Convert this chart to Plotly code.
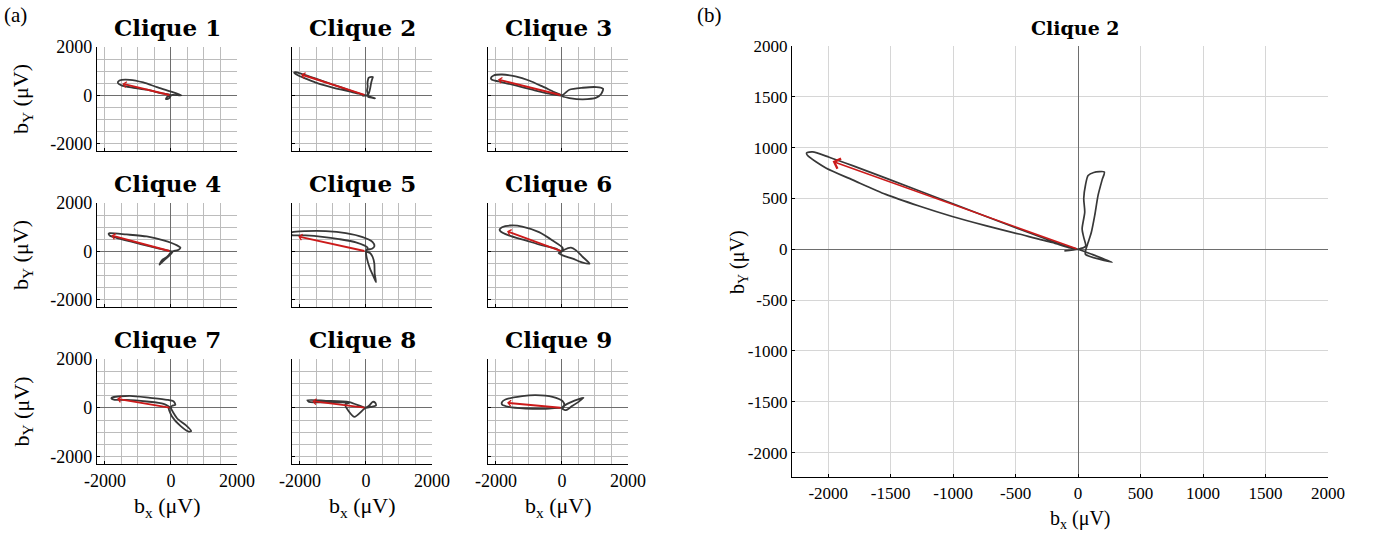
import plotly.graph_objects as go

# ---------------- data (µV) ----------------
clique1_bx = [0, -326, -734, -1142, -1500, -1610, -1560, -1244, -836, -428, -20, 316, 200, 40, -100, -153, -80, 0]
clique1_by = [0, 96, 233, 315, 411, 520, 616, 644, 534, 342, 164, 0, 10, 20, -50, -150, -140, 0]

clique2_bx = [-110, 0, 60, 45, 32, 53, 45, 59, 80, 125, 210, 192, 160, 133, 106, 80, 59, 59, 272, 112, 0,
              -101, -474, -1007, -1539, -1805, -1992, -2125, -2173, -2165, -2019, -1805, -1539, -1273, -1007,
              -740, -474, -208, -75, 0]
clique2_by = [-15, 0, 30, 117, 200, 366, 500, 633, 726, 756, 760, 683, 533, 333, 167, 67, -17, -50, -127, -50, 0,
              33, 200, 450, 700, 823, 906, 959, 949, 922, 800, 683, 540, 426, 323,
              233, 150, 67, 17, 0]

clique3_bx = [0, -235, -592, -1000, -1408, -1816, -2070, -2152, -2122, -1918, -1408, -898, -388, 0,
              224, 632, 1040, 1244, 1193, 1040, 632, 224, 20, 0]
clique3_by = [0, 137, 370, 616, 781, 863, 822, 712, 644, 575, 411, 233, 68, 0,
              233, 315, 342, 274, 68, -96, -164, -110, -41, 0]

clique4_bx = [0, 82, 235, 286, 184, -224, -734, -1346, -1856, -1887, -1856, -1652, -1142, -632, -122, 0,
              -122, -275, -347, -300, -150, 0, 60]
clique4_by = [0, 14, 68, 151, 247, 452, 616, 699, 753, 726, 658, 562, 384, 205, 41, 0,
              -233, -370, -548, -480, -300, -100, 0]

clique5_bx = [0, 51, 183, 254, 203, -101, -609, -1218, -1827, -2233, -2300, -2253, -1827, -1320, -812, -304, 51, 0,
              30, 122, 233, 304, 264, 254, 203, 122, 0]
clique5_by = [0, 68, 110, 205, 384, 589, 754, 836, 836, 795, 730, 671, 658, 603, 507, 370, 151, 0,
              -301, -712, -1055, -1274, -918, -507, -233, -68, 0]

clique6_bx = [0, 20, -286, -694, -1204, -1560, -1816, -1887, -1867, -1612, -1102, -592, -184, 0,
              71, 275, 428, 632, 836, 632, 326, 20, -102, 0]
clique6_by = [0, 151, 452, 795, 1028, 1069, 1000, 904, 836, 658, 452, 247, 110, 0,
              68, 151, 41, -233, -507, -466, -301, -164, -68, 0]

clique7_bx = [0, -224, -734, -1346, -1703, -1805, -1754, -1244, -632, -122, 82, 133, 31, 0,
              184, 439, 612, 541, 286, 31, -71, 0]
clique7_by = [0, 164, 260, 329, 329, 397, 438, 493, 411, 329, 260, 123, 82, 0,
              -425, -699, -945, -973, -740, -356, 0, 0]

clique8_bx = [0, -508, -1218, -1776, -1725, -1015, -508, -629, -355, -51, 102, 203, 284, 304, 152, 0]
clique8_by = [0, 233, 288, 315, 247, 219, 205, 123, -370, -41, 96, 247, 205, 96, 41, 0]

clique9_bx = [0, -82, -490, -1102, -1612, -1816, -1816, -1714, -1204, -796, -286, 20, 71, 20,
              122, 275, 530, 653, 530, 224, 41, 0]
clique9_by = [0, 0, -41, -27, 41, 137, 233, 342, 480, 521, 452, 274, 96, -41,
              -96, 41, 274, 411, 370, 205, 68, 0]

arrow_bx = [-1469, -1965, -1938, -1805, -2050, -1663, -1632, -1624, -1663]
arrow_by = [480, 866, 658, 658, 616, 836, 370, 274, 205]

titles = ["Clique 1", "Clique 2", "Clique 3", "Clique 4", "Clique 5",
          "Clique 6", "Clique 7", "Clique 8", "Clique 9"]
small_ticks = [-2000, 0, 2000]
small_tick_text = ["-2000", "0", "2000"]
big_ticks = [-2000, -1500, -1000, -500, 0, 500, 1000, 1500, 2000]
big_tick_text = ["-2000", "-1500", "-1000", "-500", "0", "500", "1000", "1500", "2000"]

curves_bx = [clique1_bx, clique2_bx, clique3_bx, clique4_bx, clique5_bx,
             clique6_bx, clique7_bx, clique8_bx, clique9_bx]
curves_by = [clique1_by, clique2_by, clique3_by, clique4_by, clique5_by,
             clique6_by, clique7_by, clique8_by, clique9_by]

# ---------------- layout geometry ----------------
W, H = 1375, 535
col_px = [(97, 237), (292, 432), (488, 628)]
row_px = [(47, 151), (203, 307), (359, 464)]
big_px_x = (792, 1328)
big_px_y = (46, 477)

SERIF = "Liberation Serif, Times New Roman, serif"
TITLEFONT = "DejaVu Serif, serif"
CURVE = "#383838"
RED = "#cc1a1a"

fig = go.Figure()
layout = dict(width=W, height=H, margin=dict(l=0, r=0, t=0, b=0, pad=0, autoexpand=False),
              paper_bgcolor="white", plot_bgcolor="white", showlegend=False,
              font=dict(family=SERIF, color="black"))
annotations = []


def px2fx(p):
    return p / W


def px2fy(p):
    return 1 - p / H


def axis_common(rng, tickvals, ticktext, show_labels, fsize, gridcol, minor_dtick=None):
    d = dict(range=rng, tickmode="array", tickvals=tickvals, ticktext=ticktext,
             showticklabels=show_labels, showgrid=True, gridcolor=gridcol, gridwidth=1,
             zeroline=True, zerolinecolor="#6e6e6e", zerolinewidth=1,
             showline=True, linecolor="black", linewidth=1.3, mirror=False,
             ticks="inside", ticklen=3, tickcolor="black", automargin=False,
             tickfont=dict(family=SERIF, size=fsize, color="black"), fixedrange=True)
    if minor_dtick:
        d["minor"] = dict(dtick=minor_dtick, tick0=0, showgrid=True, gridcolor=gridcol,
                          gridwidth=1, ticks="")
    return d


def label(x, y, text, size, family=SERIF, angle=0):
    return dict(x=px2fx(x), y=px2fy(y), xref="paper", yref="paper", text=text,
                showarrow=False, xanchor="center", yanchor="middle", textangle=angle,
                font=dict(family=family, size=size, color="black"))


for i in range(9):
    r, c = divmod(i, 3)
    n = i + 1
    xa = "xaxis" if n == 1 else f"xaxis{n}"
    ya = "yaxis" if n == 1 else f"yaxis{n}"
    xref = "x" if n == 1 else f"x{n}"
    yref = "y" if n == 1 else f"y{n}"
    x0, x1 = col_px[c]
    y0, y1 = row_px[r]
    xd = axis_common([-2240, 2000], small_ticks, small_tick_text, r == 2, 18, "#bcbcbc", 500)
    xd.update(domain=[px2fx(x0), px2fx(x1)], anchor=yref)
    yd = axis_common([-2300, 2000], small_ticks, small_tick_text, c == 0, 18, "#bcbcbc", 500)
    yd.update(domain=[px2fy(y1), px2fy(y0)], anchor=xref)
    layout[xa] = xd
    layout[ya] = yd
    fig.add_trace(go.Scatter(x=curves_bx[i], y=curves_by[i], mode="lines",
                             line=dict(color=CURVE, width=1.8, shape="spline", smoothing=0.7),
                             xaxis=xref, yaxis=yref, hoverinfo="skip"))
    annotations.append(dict(x=arrow_bx[i], y=arrow_by[i], ax=0, ay=0, xref=xref, yref=yref,
                            axref=xref, ayref=yref, text="", showarrow=True,
                            arrowhead=4, arrowsize=0.6, arrowwidth=1.9, arrowcolor=RED))
    annotations.append(label((x0 + x1) / 2, y0 - 20, f"<b>{titles[i]}</b>", 23, TITLEFONT))
    if c == 0:
        annotations.append(label(22, (y0 + y1) / 2, "b<sub>Y</sub> (μV)", 22, angle=-90))
    if r == 2:
        annotations.append(label((x0 + x1) / 2, 507, "b<sub>x</sub> (μV)", 22))

# big panel (b): Clique 2
xd = axis_common([-2290, 2000], big_ticks, big_tick_text, True, 17, "#d6d6d6")
xd.update(domain=[px2fx(big_px_x[0]), px2fx(big_px_x[1])], anchor="y10")
yd = axis_common([-2240, 2000], big_ticks, big_tick_text, True, 17, "#d6d6d6")
yd.update(domain=[px2fy(big_px_y[1]), px2fy(big_px_y[0])], anchor="x10")
layout["xaxis10"] = xd
layout["yaxis10"] = yd
fig.add_trace(go.Scatter(x=clique2_bx, y=clique2_by, mode="lines",
                         line=dict(color=CURVE, width=1.7, shape="spline", smoothing=0.7),
                         xaxis="x10", yaxis="y10", hoverinfo="skip"))
annotations.append(dict(x=arrow_bx[1], y=arrow_by[1], ax=0, ay=0, xref="x10", yref="y10",
                        axref="x10", ayref="y10", text="", showarrow=True,
                        arrowhead=4, arrowsize=1.3, arrowwidth=1.6, arrowcolor=RED))
annotations.append(label(1075, 28, "<b>Clique 2</b>", 19, TITLEFONT))
annotations.append(label(738, 262, "b<sub>Y</sub> (μV)", 20, angle=-90))
annotations.append(label(1080, 519, "b<sub>x</sub> (μV)", 20))

# panel labels
annotations.append(label(16, 15, "(a)", 21))
annotations.append(label(709, 15, "(b)", 21))

layout["annotations"] = annotations
fig.update_layout(**layout)
fig.write_html("out.html", config={"displayModeBar": False},
               post_script="document.body.style.margin='0px';")
